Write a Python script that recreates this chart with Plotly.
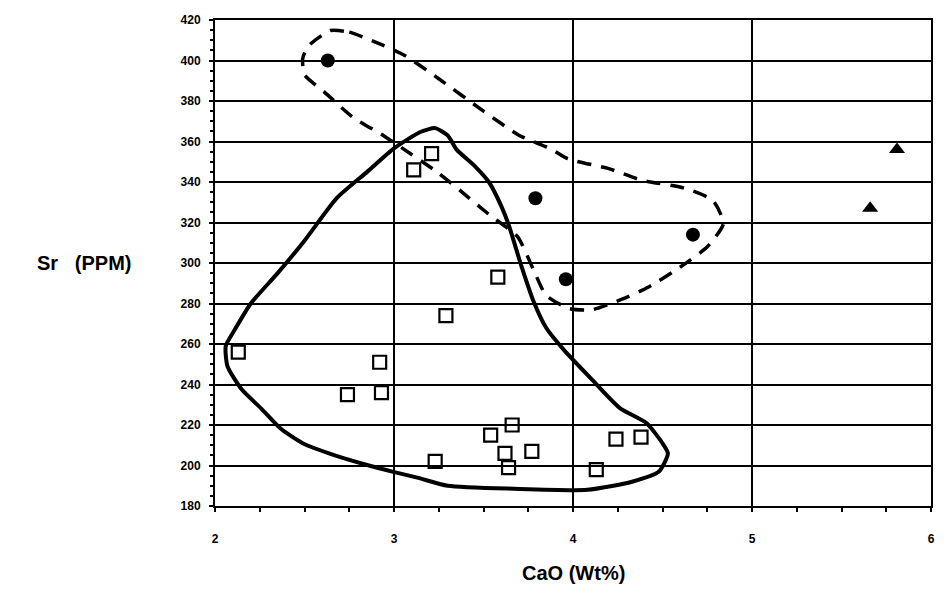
import plotly.graph_objects as go

# Data
sq_x = [2.13, 2.92, 2.74, 2.93, 3.23, 3.11, 3.21, 3.58, 3.29, 3.54, 3.66, 3.62, 3.77, 3.64, 4.24, 4.38, 4.13]
sq_y = [256, 251, 235, 236, 202, 346, 354, 293, 274, 215, 220, 206, 207, 199, 213, 214, 198]

circ_x = [2.63, 3.79, 4.67, 3.96]
circ_y = [400, 332, 314, 292]

tri_x = [5.81, 5.66]
tri_y = [356, 327]

solid_x = [3.23, 3.3, 3.35, 3.45, 3.53, 3.6, 3.64, 3.71, 3.78, 3.85, 3.95, 4.1, 4.26, 4.41, 4.5, 4.53,
           4.48, 4.33, 4.08, 3.67, 3.3, 3.13, 2.99, 2.86, 2.67, 2.49, 2.37, 2.26, 2.15, 2.07, 2.06, 2.11,
           2.2, 2.35, 2.5, 2.68, 2.85, 3.0, 3.15, 3.23]
solid_y = [366.6, 363, 356, 348, 340, 328, 319, 299, 281, 268, 257, 243, 228.5, 221, 211, 206,
           197, 192, 188, 188.5, 190, 194, 197, 200, 205, 211, 218, 228, 237.5, 249, 259, 267,
           280, 295, 311, 332, 345, 356.6, 364.8, 366.6]

dash_x = [2.645, 2.75, 2.9, 3.06, 3.25, 3.5, 3.7, 3.87, 3.97, 4.2, 4.38, 4.62, 4.78, 4.84, 4.75, 4.6,
          4.42, 4.27, 4.11, 3.98, 3.85, 3.78, 3.69, 3.53, 3.38, 3.24, 3.05, 2.94, 2.77, 2.61, 2.5,
          2.49, 2.52, 2.645]
dash_y = [414.8, 414, 409, 402.5, 391, 375, 363, 356.6, 351.5, 346.6, 341, 337, 331, 319.5, 308, 298,
          288, 282, 277, 277.5, 284, 296.5, 313, 324, 335, 345, 356.5, 363, 372, 384.5, 393,
          401, 407, 414.8]

x_ticks = [2, 3, 4, 5, 6]
y_ticks = list(range(180, 421, 20))

fig = go.Figure()
fig.add_trace(go.Scatter(x=solid_x, y=solid_y, mode="lines",
                         line=dict(color="black", width=4, shape="spline", smoothing=0.6),
                         hoverinfo="skip", showlegend=False))
fig.add_trace(go.Scatter(x=dash_x, y=dash_y, mode="lines",
                         line=dict(color="black", width=3.5, dash="14px,10px", shape="spline", smoothing=0.6),
                         hoverinfo="skip", showlegend=False))
fig.add_trace(go.Scatter(x=sq_x, y=sq_y, mode="markers",
                         marker=dict(symbol="square-open", size=13, color="black", line=dict(width=2.2)),
                         showlegend=False))
fig.add_trace(go.Scatter(x=circ_x, y=circ_y, mode="markers",
                         marker=dict(symbol="circle", size=14, color="black"),
                         showlegend=False))
fig.add_trace(go.Scatter(x=tri_x, y=tri_y, mode="markers",
                         marker=dict(symbol="triangle-up", size=14, color="black"),
                         showlegend=False))

tick_font = dict(family="Liberation Sans, Arial, sans-serif", size=12, color="black", weight="bold")
title_font = dict(family="Liberation Sans, Arial, sans-serif", size=20, color="black", weight="bold")

fig.update_layout(
    width=930, height=577,
    margin=dict(l=207, r=3, t=12, b=79),
    paper_bgcolor="white", plot_bgcolor="white",
    xaxis=dict(range=[2, 6], tickvals=x_ticks, ticktext=[str(v) for v in x_ticks],
               showgrid=True, gridcolor="black", gridwidth=2,
               showline=True, linecolor="black", linewidth=2, mirror=True,
               ticks="outside", ticklen=4, tickwidth=2, tickcolor="black",
               minor=dict(dtick=0.25, ticks="outside", ticklen=4, tickwidth=2, tickcolor="black", showgrid=False),
               tickfont=tick_font, zeroline=False, ticklabelstandoff=17),
    yaxis=dict(range=[180, 420], tickvals=y_ticks, ticktext=[str(v) for v in y_ticks],
               showgrid=True, gridcolor="black", gridwidth=2,
               showline=True, linecolor="black", linewidth=2, mirror=True,
               ticks="outside", ticklen=4, tickwidth=2, tickcolor="black",
               minor=dict(dtick=5, ticks="outside", ticklen=3, tickwidth=2, tickcolor="black", showgrid=False),
               tickfont=tick_font, zeroline=False, ticklabelstandoff=6),
    annotations=[
        dict(text="Sr   (PPM)", xref="paper", yref="paper", x=-0.183, y=0.5,
             xanchor="center", yanchor="middle", showarrow=False, font=title_font),
        dict(text="CaO (Wt%)", xref="paper", yref="paper", x=0.5, y=-0.138,
             xanchor="center", yanchor="middle", showarrow=False, font=title_font),
    ],
)

fig.write_html("out.html")
